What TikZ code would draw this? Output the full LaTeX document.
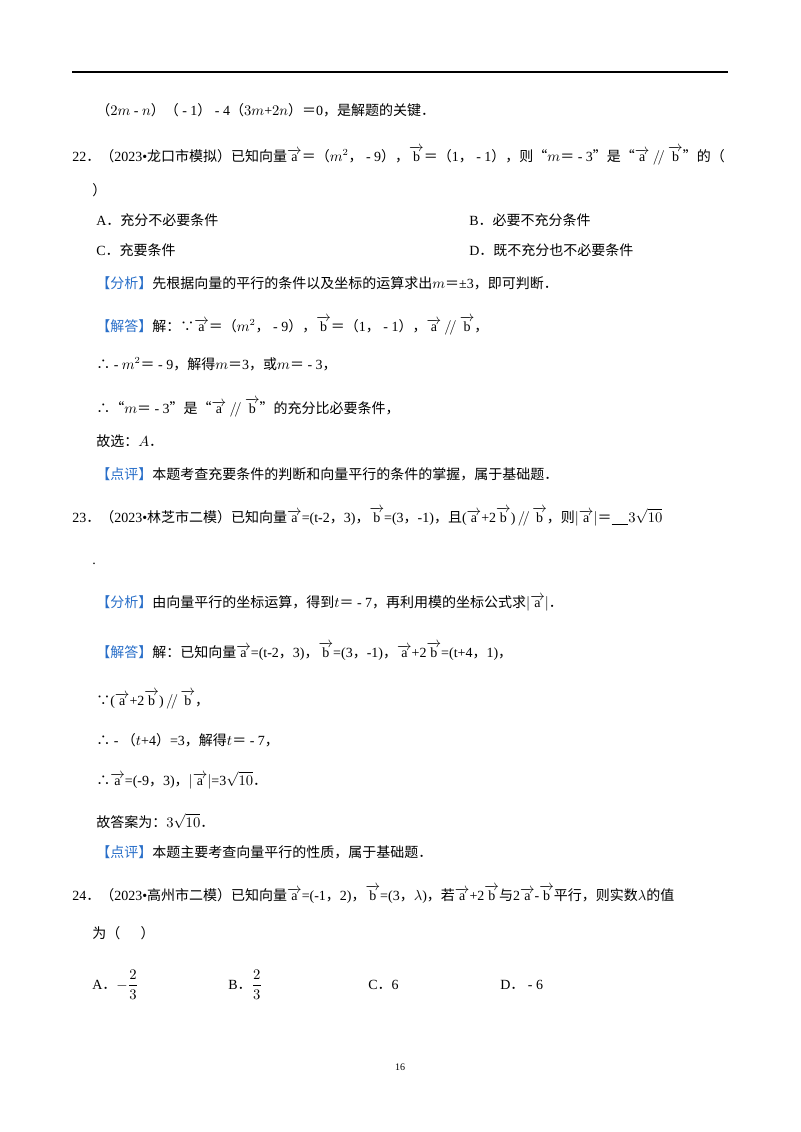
\documentclass[tikz,border=0pt]{standalone}
\usepackage{amsmath}
\usepackage{fontspec}
\setmainfont{Liberation Serif}
\newfontfamily\cjk{Noto Sans CJK SC}
\newcommand\zh[1]{{\cjk #1}}
\newcommand\va{\overrightarrow{\mathrm{a}}}
\newcommand\vb{\overrightarrow{\mathrm{b}}}
\newcommand\pll{\mathbin{/\!/}}
\definecolor{tagblue}{RGB}{40,110,200}
\newcommand\btag[1]{\textcolor{tagblue}{\zh{【#1】}}}
\begin{document}
\begin{tikzpicture}[x=0.75pt,y=-0.75pt,
  t/.style={anchor=base west,inner sep=0pt,font=\fontsize{10.5}{12}\selectfont}]
\useasboundingbox (0,0) rectangle (800,1132);
\draw[line width=1.2pt] (72,72) -- (728,72);
\node[t] (p0) at (96,115) {\zh{（}$2m$ - $n$\zh{）（} - 1\zh{）} - 4\zh{（}$3m$+$2n$\zh{）＝}0\zh{，是解题的关键．}};
\node[t] (q22) at (72,161) {22\zh{．（}2023•\zh{龙口市模拟）已知向量}$\va$\zh{＝（}$m^2$\zh{，} - 9\zh{），}$\vb$\zh{＝（}1\zh{，} - 1\zh{），则“}$m$\zh{＝} - 3\zh{”是“}$\va\pll\vb$\zh{”的（}};
\node[t] (q22b) at (92,195) {\zh{）}};
\node[t] (a22) at (96,225) {A\zh{．充分不必要条件}};
\node[t] (b22) at (469,225) {B\zh{．必要不充分条件}};
\node[t] (c22) at (96,255) {C\zh{．充要条件}};
\node[t] (d22) at (469,255) {D\zh{．既不充分也不必要条件}};
\node[t] (f22) at (96,288) {\btag{分析}\zh{先根据向量的平行的条件以及坐标的运算求出}$m$\zh{＝}±3\zh{，即可判断．}};
\node[t] (j22) at (96,331) {\btag{解答}\zh{解：∵}$\va$\zh{＝（}$m^2$\zh{，} - 9\zh{），}$\vb$\zh{＝（}1\zh{，} - 1\zh{），}$\va\pll\vb$\zh{，}};
\node[t] (s1) at (96,369) {\zh{∴} - $m^2$\zh{＝} - 9\zh{，解得}$m$\zh{＝}3\zh{，或}$m$\zh{＝} - 3\zh{，}};
\node[t] (s2) at (96,413) {\zh{∴“}$m$\zh{＝} - 3\zh{”是“}$\va\pll\vb$\zh{”的充分比必要条件，}};
\node[t] (s3) at (96,446) {\zh{故选：}$A$\zh{．}};
\node[t] (d22p) at (96,479) {\btag{点评}\zh{本题考查充要条件的判断和向量平行的条件的掌握，属于基础题．}};
\node[t] (q23) at (72,522) {23\zh{．（}2023•\zh{林芝市二模）已知向量}$\va$=(t-2\zh{，}3)\zh{，}$\vb$=(3\zh{，}-1)\zh{，且}($\va$+2$\vb$)\,$/\!/$\,$\vb$\zh{，则}$|\va|$\zh{＝}\underline{\hspace{1.2em}}$3\sqrt{10}$};
\node[t] (dot) at (92,564) {.};
\node[t] (f23) at (96,607) {\btag{分析}\zh{由向量平行的坐标运算，得到}$t$\zh{＝} - 7\zh{，再利用模的坐标公式求}$|\va|$\zh{．}};
\node[t] (j23) at (96,657) {\btag{解答}\zh{解：已知向量}$\va$=(t-2\zh{，}3)\zh{，}$\vb$=(3\zh{，}-1)\zh{，}$\va$+2$\vb$=(t+4\zh{，}1)\zh{，}};
\node[t] (u1) at (96,705) {\zh{∵}($\va$+2$\vb$)\,$/\!/$\,$\vb$\zh{，}};
\node[t] (u2) at (96,745) {\zh{∴} - \zh{（}$t$+4\zh{）}=3\zh{，解得}$t$\zh{＝} - 7\zh{，}};
\node[t] (u3) at (96,785) {\zh{∴}$\va$=(-9\zh{，}3)\zh{，}$|\va|$=3$\sqrt{10}$\zh{．}};
\node[t] (u4) at (96,827) {\zh{故答案为：}$3\sqrt{10}$\zh{．}};
\node[t] (d23) at (96,857) {\btag{点评}\zh{本题主要考查向量平行的性质，属于基础题．}};
\node[t] (q24) at (72,900) {24\zh{．（}2023•\zh{高州市二模）已知向量}$\va$=(-1\zh{，}2)\zh{，}$\vb$=(3\zh{，}$\lambda$)\zh{，若}$\va$+2$\vb$\zh{与}2$\va$-$\vb$\zh{平行，则实数}$\lambda$\zh{的值}};
\node[t] (q24b) at (92,938) {\zh{为（\quad\ \ ）}};
\node[t] (a24) at (92,989) {A\zh{．}$-\dfrac{2}{3}$};
\node[t] (b24) at (228,989) {B\zh{．}$\dfrac{2}{3}$};
\node[t] (c24) at (368,989) {C\zh{．}6};
\node[t] (d24) at (500,989) {D\zh{．} - 6};
\node[anchor=base,inner sep=0pt,font=\fontsize{7.5}{9}\selectfont] (pg) at (400,1070) {16};
\end{tikzpicture}
\end{document}
